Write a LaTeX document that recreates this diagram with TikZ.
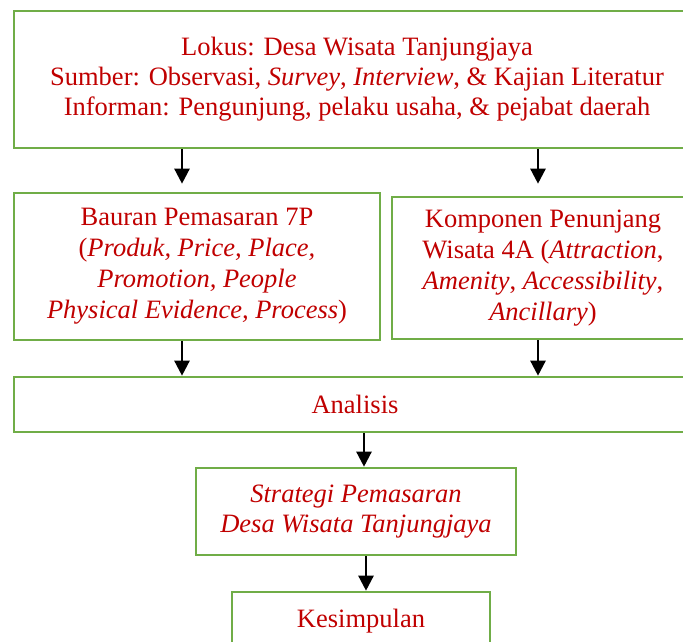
\documentclass[tikz,border=0pt]{standalone}
\usepackage{fontspec}
\setmainfont{Liberation Serif}
\usetikzlibrary{arrows.meta}
\definecolor{boxgreen}{HTML}{70AD47}
\definecolor{txtred}{HTML}{C00000}
\begin{document}
\begin{tikzpicture}[x=1pt,y=1pt,
  box/.style={draw=boxgreen, line width=2.6pt, rectangle, align=center, text=txtred,
    font=\fontsize{26.5}{30}\selectfont, inner sep=0pt},
  tallbox/.style={box, font=\fontsize{26.5}{31}\selectfont},
  arr/.style={line width=2.4pt, -{Triangle[width=15pt,length=15pt]}}]
\useasboundingbox (0,0) rectangle (683,-642);
\begin{scope}
\clip (0,0) rectangle (683,-642);
\node[box, minimum width=686pt, minimum height=137pt] (top) at (357,-79.5)
  {Lokus: Desa Wisata Tanjungjaya\\
   Sumber: Observasi, \textit{Survey}, \textit{Interview}, \& Kajian Literatur\\
   Informan: Pengunjung, pelaku usaha, \& pejabat daerah};
\node[tallbox, minimum width=366pt, minimum height=147pt] (left) at (197,-266.5)
  {Bauran Pemasaran 7P\\
   (\textit{Produk, Price, Place,}\\
   \textit{Promotion, People}\\
   \textit{Physical Evidence, Process})};
\node[tallbox, minimum width=302pt, minimum height=142pt] (right) at (543,-268)
  {\raisebox{-3pt}{Komponen Penunjang}\\
   \raisebox{-3pt}{Wisata 4A (\textit{Attraction},}\\
   \raisebox{-3pt}{\textit{Amenity}, \textit{Accessibility},}\\
   \raisebox{-3pt}{\textit{Ancillary})}};
\node[box, minimum width=682pt, minimum height=55pt] (ana) at (355,-404.5) {Analisis};
\node[box, minimum width=320pt, minimum height=87pt] (strat) at (356,-511.5)
  {\textit{Strategi Pemasaran}\\ \textit{Desa Wisata Tanjungjaya}};
\node[box, minimum width=258pt, minimum height=58pt] (kes) at (361,-621) {Kesimpulan};
\coordinate (xl) at (182,0);
\coordinate (xr) at (538,0);
\coordinate (xm) at (364,0);
\coordinate (xk) at (366,0);
\draw[arr, shorten >=8pt] (top.south -| xl) -- (left.north -| xl);
\draw[arr, shorten >=12pt] (top.south -| xr) -- (right.north -| xr);
\draw[arr] (left.south -| xl) -- (ana.north -| xl);
\draw[arr] (right.south -| xr) -- (ana.north -| xr);
\draw[arr] (ana.south -| xm) -- (strat.north -| xm);
\draw[arr] (strat.south -| xk) -- (kes.north -| xk);
\end{scope}
\end{tikzpicture}
\end{document}
